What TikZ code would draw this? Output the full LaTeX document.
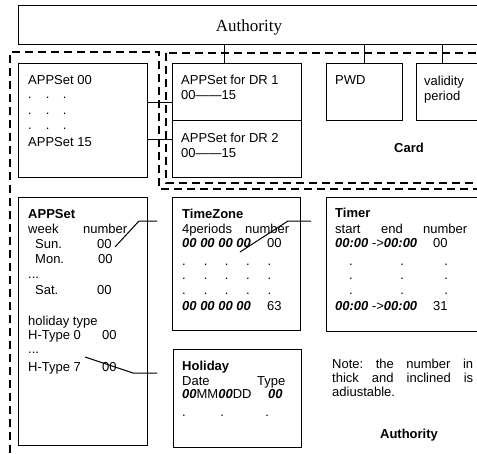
\documentclass[tikz,border=0pt]{standalone}
\usepackage{fontspec}
\setmainfont{Liberation Serif}
\setsansfont{Liberation Sans}
\usetikzlibrary{positioning}
\newcommand{\adjnum}[1]{\textbf{\textit{#1}}}

\begin{document}
\begin{tikzpicture}[x=1pt, y=-1pt,
    box/.style={draw, line width=1.4pt, anchor=north west, inner sep=0pt},
    txt/.style={anchor=base west, inner sep=0pt, font=\sffamily\fontsize{13}{14}\selectfont},
    head/.style={txt, font=\sffamily\bfseries\fontsize{13}{14}\selectfont},
    zone/.style={line width=1.3pt, dash pattern=on 8pt off 5pt},
    link/.style={line width=1pt}]
    \useasboundingbox (0,0) rectangle (477,453);
    \clip (0,0) rectangle (477,453);

    % Zones
    \draw[zone] (10,453) -- (10,52) -- (159,52) -- (159,189) -- (490,189);
    \draw[zone] (166,53) rectangle (490,183);

    % Boxes
    \node[box, minimum width=463pt, minimum height=39pt] (auth) at (18,5) {};
    \node[box, minimum width=129pt, minimum height=114pt] (setlist) at (18,63) {};
    \node[box, minimum width=129pt, minimum height=57pt] (dr1) at (172,63) {};
    \node[box, minimum width=129pt, minimum height=57pt] (dr2) at (172,120) {};
    \node[box, minimum width=76pt, minimum height=57pt] (pwd) at (326,63) {};
    \node[box, minimum width=68pt, minimum height=57pt] (valid) at (416,63) {};
    \node[box, minimum width=129pt, minimum height=248pt] (appset) at (18,197) {};
    \node[box, minimum width=128pt, minimum height=133pt] (tzone) at (172,197) {};
    \node[box, minimum width=160pt, minimum height=134pt] (timer) at (326,197) {};
    \node[box, minimum width=128pt, minimum height=98pt] (holiday) at (173,349) {};

    % Top texts
    \node[anchor=base, inner sep=0pt, font=\fontsize{17}{20}\selectfont] (authtitle) at (249,31) {Authority};
    \node[txt] (setfirst) at (28,84) {APPSet 00};
    \node[txt] (setdotsa) at (28,98) {.\hspace{14pt}.\hspace{13.5pt}.};
    \node[txt] (setdotsb) at (28,114) {.\hspace{14pt}.\hspace{13.5pt}.};
    \node[txt] (setdotsc) at (28,129) {.\hspace{14pt}.\hspace{13.5pt}.};
    \node[txt] (setlast) at (28,146) {APPSet 15};
    \node[txt] (drone) at (181,84) {APPSet for DR 1};
    \node[txt] (dronerange) at (181,99) {00\textemdash\textemdash15};
    \node[txt] (drtwo) at (181,142) {APPSet for DR 2};
    \node[txt] (drtworange) at (181,157) {00\textemdash\textemdash15};
    \node[txt] (pwdtext) at (335,84) {PWD};
    \node[txt] (validtext) at (424,85) {validity};
    \node[txt] (periodtext) at (424,100) {period};
    \node[head, anchor=base] (cardlabel) at (409,152) {Card};

    % APPSet
    \node[head] (appsettitle) at (28,218) {APPSet};
    \node[txt] (weektext) at (28,233) {week};
    \node[txt] (weeknum) at (83,233) {number};
    \node[txt] (suntext) at (35,248) {Sun.};
    \node[txt] (sunnum) at (97,248) {00};
    \node[txt] (montext) at (35,263) {Mon.};
    \node[txt] (monnum) at (98,263) {00};
    \node[txt] (weekdots) at (28,278) {...};
    \node[txt] (sattext) at (35,294) {Sat.};
    \node[txt] (satnum) at (97,294) {00};
    \node[txt] (htypetext) at (28,325) {holiday type};
    \node[txt] (hzerotext) at (28,339) {H-Type 0};
    \node[txt] (hzeronum) at (102,339) {00};
    \node[txt] (htypedots) at (28,353) {...};
    \node[txt] (hseventext) at (28,371) {H-Type 7};
    \node[txt] (hsevennum) at (102,371) {00};

    % TimeZone
    \node[head] (tzonetitle) at (182,218) {TimeZone};
    \node[txt] (periodstext) at (182,233) {4periods};
    \node[txt] (tzonenum) at (245,233) {number};
    \node[txt] (tzfirst) at (182,247) {\adjnum{00 00 00 00}};
    \node[txt] (tzfirstnum) at (267,247) {00};
    \node[txt] (tzdotsa) at (182,265) {.\hspace{18pt}.\hspace{17.5pt}.\hspace{17.5pt}.\hspace{18pt}.};
    \node[txt] (tzdotsb) at (182,279) {.\hspace{18pt}.\hspace{17.5pt}.\hspace{17.5pt}.\hspace{18pt}.};
    \node[txt] (tzdotsc) at (182,294) {.\hspace{18pt}.\hspace{17.5pt}.\hspace{17.5pt}.\hspace{18pt}.};
    \node[txt] (tzlast) at (182,310) {\adjnum{00 00 00 00}};
    \node[txt] (tzlastnum) at (267,310) {63};

    % Timer
    \node[head] (timertitle) at (335,217) {Timer};
    \node[txt] (starttext) at (335,233) {start};
    \node[txt] (endtext) at (381,233) {end};
    \node[txt] (timernum) at (423,233) {number};
    \node[txt] (tmfirst) at (335,247) {\adjnum{00:00} ->\adjnum{00:00}};
    \node[txt] (tmfirstnum) at (433,247) {00};
    \node[txt] (tmdotsa) at (349,265) {.\hspace{47.5pt}.\hspace{40.5pt}.};
    \node[txt] (tmdotsb) at (349,279) {.\hspace{47.5pt}.\hspace{40.5pt}.};
    \node[txt] (tmdotsc) at (349,294) {.\hspace{47.5pt}.\hspace{40.5pt}.};
    \node[txt] (tmlast) at (335,310) {\adjnum{00:00} ->\adjnum{00:00}};
    \node[txt] (tmlastnum) at (433,310) {31};

    % Holiday
    \node[head] (holidaytitle) at (182,370) {Holiday};
    \node[txt] (datetext) at (182,385) {Date};
    \node[txt] (typetext) at (257,385) {Type};
    \node[txt] (datevalue) at (182,398) {\adjnum{00}MM\adjnum{00}DD};
    \node[txt] (typevalue) at (268,398) {\adjnum{00}};
    \node[txt] (holidaydots) at (182,416) {.\hspace{34.5pt}.\hspace{41.5pt}.};

    % Note
    \node[txt, anchor=north west, text width=141pt, align=justify] (note) at (332,358.5)
        {\frenchspacing Note: the number in\linebreak thick and inclined is\linebreak adiustable.};
    \node[head, anchor=base] (authlabel) at (409,438) {Authority};

    % Links
    \coordinate (tapdr) at (224,0);
    \coordinate (tapvalid) at (442,0);
    \draw[link] (auth.south -| tapdr) -- (dr1.north -| tapdr);
    \draw[link] (auth.south -| pwd.north) -- (pwd.north);
    \draw[link] (auth.south -| tapvalid) -- (valid.north -| tapvalid);
    \coordinate (linkone) at (0,102);
    \coordinate (linktwo) at (0,139);
    \draw[link] (setlist.east |- linkone) -- (dr1.west |- linkone);
    \draw[link] (setlist.east |- linktwo) -- (dr2.west |- linktwo);

    \coordinate (sunfoot) at (115,247);
    \coordinate (sunbend) at (139,221);
    \coordinate (sunend) at (157,221);
    \draw[link] (sunfoot) -- (sunbend) -- (sunend);
    \coordinate (tzfoot) at (240,252);
    \coordinate (tzbend) at (288,221);
    \coordinate (tzend) at (311,221);
    \draw[link] (tzfoot) -- (tzbend) -- (tzend);
    \coordinate (holfoot) at (85,357);
    \coordinate (holbend) at (133,373);
    \coordinate (holend) at (157,373);
    \draw[link] (holfoot) -- (holbend) -- (holend);
\end{tikzpicture}
\end{document}
